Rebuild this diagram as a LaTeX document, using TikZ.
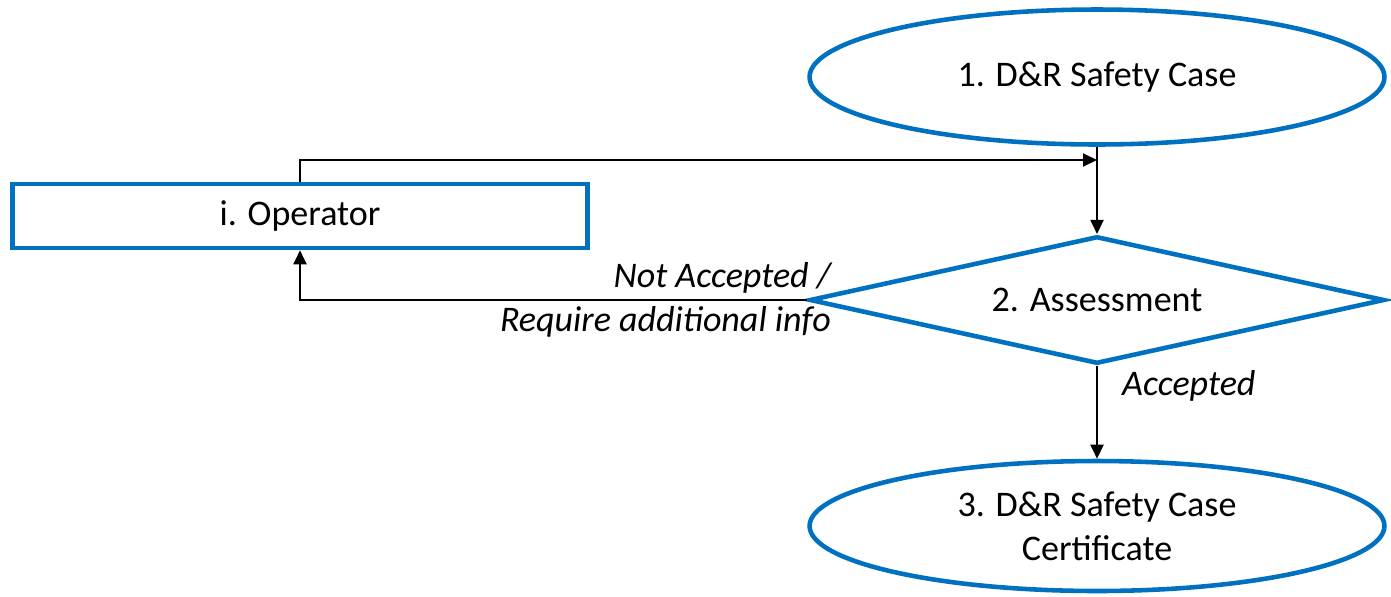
\documentclass[tikz,border=0pt]{standalone}
\usepackage{fontspec}
\setmainfont{Carlito}
\usetikzlibrary{shapes.geometric,arrows.meta}
\definecolor{boxblue}{RGB}{0,112,192}
\begin{document}
\begin{tikzpicture}[x=0.02cm,y=-0.02cm,
        font=\fontsize{20.5}{25}\selectfont,
        blueline/.style={draw=boxblue,line width=2.6pt},
        oval/.style={blueline,ellipse,minimum width=11.5cm,minimum height=2.7cm,inner sep=0pt,align=center},
        arr/.style={black,line width=1.1pt,-{Triangle[length=2.8mm,width=2.6mm]}}]
        \useasboundingbox (0,0) rectangle (1391,596);
        \node[oval] (case) at (1097,77) {1. D\&R Safety Case};
        \node[blueline,rectangle,minimum width=11.5cm,minimum height=1.28cm] (operator) at (300,216) {i. Operator};
        \node[blueline,diamond,aspect=4.5,minimum width=11.5cm,minimum height=2.55cm,inner sep=0pt] (assess) at (1097,300) {2. Assessment};
        \node[oval,minimum height=2.6cm] (cert) at (1097,526) {3. D\&R Safety Case\\Certificate};
        \coordinate (join) at (1097,160);
        \draw[arr] (operator.north) |- (join);
        \draw[arr] (case.south) -- (assess.north);
        \draw[arr] (assess.west) -| (operator.south);
        \draw[arr] (assess.south) -- (cert.north);
        \node[anchor=east,align=right,font=\fontsize{20.5}{25}\selectfont\itshape] (notacc) at (837,300) {Not Accepted /\\Require additional info};
        \node[anchor=west,font=\fontsize{20.5}{25}\selectfont\itshape] (acc) at (1116,386) {Accepted};
    \end{tikzpicture}
\end{document}
